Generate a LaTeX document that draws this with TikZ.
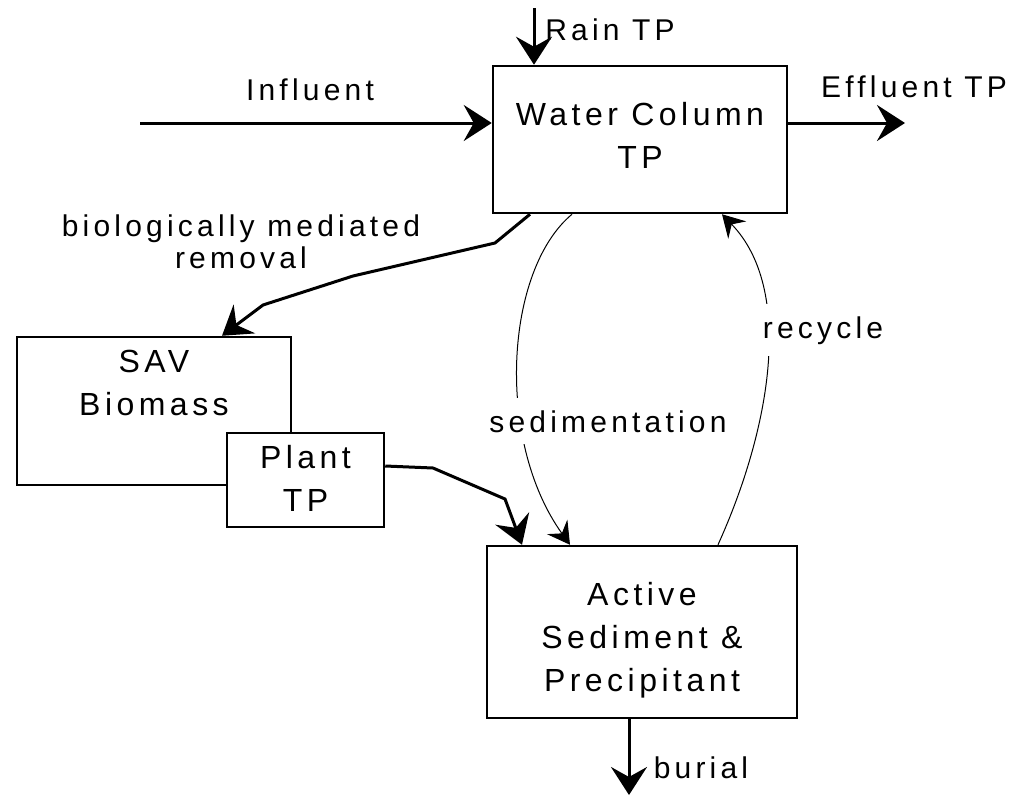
\documentclass[tikz,border=0pt]{standalone}
\usepackage{fontspec}
\setmainfont{Liberation Sans}[LetterSpace=14]
\usepackage{tikz}
\usetikzlibrary{arrows.meta}
\usetikzlibrary{positioning}
\tikzset{
	every node/.style={font=\fontsize{30}{32}\selectfont}
}
\tikzset{
	->,>={Stealth[length=28pt,width=36pt,inset=10pt]},
	box node/.style={rectangle,draw,fill=white,line width=2.5pt,inner sep=0pt},
	box text/.style={align=center,inner sep=2pt,font=\fontsize{32}{43}\selectfont},
	flow label/.style={anchor=base,inner sep=12pt},
	thin flow/.style={line width=1pt,>={Stealth[length=22pt,width=25pt,inset=8pt]}}
}

\begin{document}
\begin{tikzpicture}[x=1pt,y=-1pt,line width=3pt]
      \useasboundingbox (0,0) rectangle (1010,796);
      \node[box node,minimum width=294,minimum height=147] (wc) at (640,139.5) {};
      \node[box text,below=34pt of wc.north] (wctext) {Water Column\\TP};
      \node[box node,minimum width=274,minimum height=148] (sav) at (154,411) {};
      \node[box text,below=11pt of sav.north] (savtext) {SAV\\Biomass};
      \node[box node,minimum width=157,minimum height=94] (plant) at (305.5,480) {};
      \node[box text,below=10pt of plant.north] (planttext) {Plant\\TP};
      \node[box node,minimum width=310,minimum height=172] (act) at (642,632) {};
      \node[box text,below=34pt of act.north] (acttext) {Active\\Sediment \&\\Precipitant};
      \coordinate (rain) at (534,8);
      \coordinate (infl) at (140,123);
      \coordinate (effl) at (905,123);
      \coordinate (burial) at (629,795);
      \draw (rain) -- (rain |- wc.north);
      \draw (infl) -- (infl -| wc.west);
      \draw (effl -| wc.east) -- (effl);
      \draw ([xshift=-110pt]wc.south) -- (495,243) -- (353,276) -- (263,305) -- ([xshift=68pt]sav.north);
      \draw ([yshift=14pt]plant.east) -- (433,468) -- (505,499) -- ([xshift=-120pt]act.north);
      \draw[thin flow] ([xshift=-68pt]wc.south) .. controls (505,270) and (495,440) .. ([xshift=-72pt]act.north);
      \draw[thin flow] ([xshift=76pt]act.north) .. controls (770,430) and (795,290) .. ([xshift=82pt]wc.south);
      \draw (burial |- act.south) -- (burial);
      \node[flow label] (rainlbl) at (610,40) {Rain TP};
      \node[flow label] (infllbl) at (310,100) {Influent};
      \node[flow label] (effllbl) at (914,97) {Effluent TP};
      \node[align=center] (biolbl) at (241,242) {biologically mediated\\removal};
      \node[flow label,fill=white] (sedlbl) at (608,432) {sedimentation};
      \node[flow label,fill=white] (recyclbl) at (823,338) {recycle};
      \node[flow label] (buriallbl) at (701,778) {burial};
    \end{tikzpicture}
\end{document}
